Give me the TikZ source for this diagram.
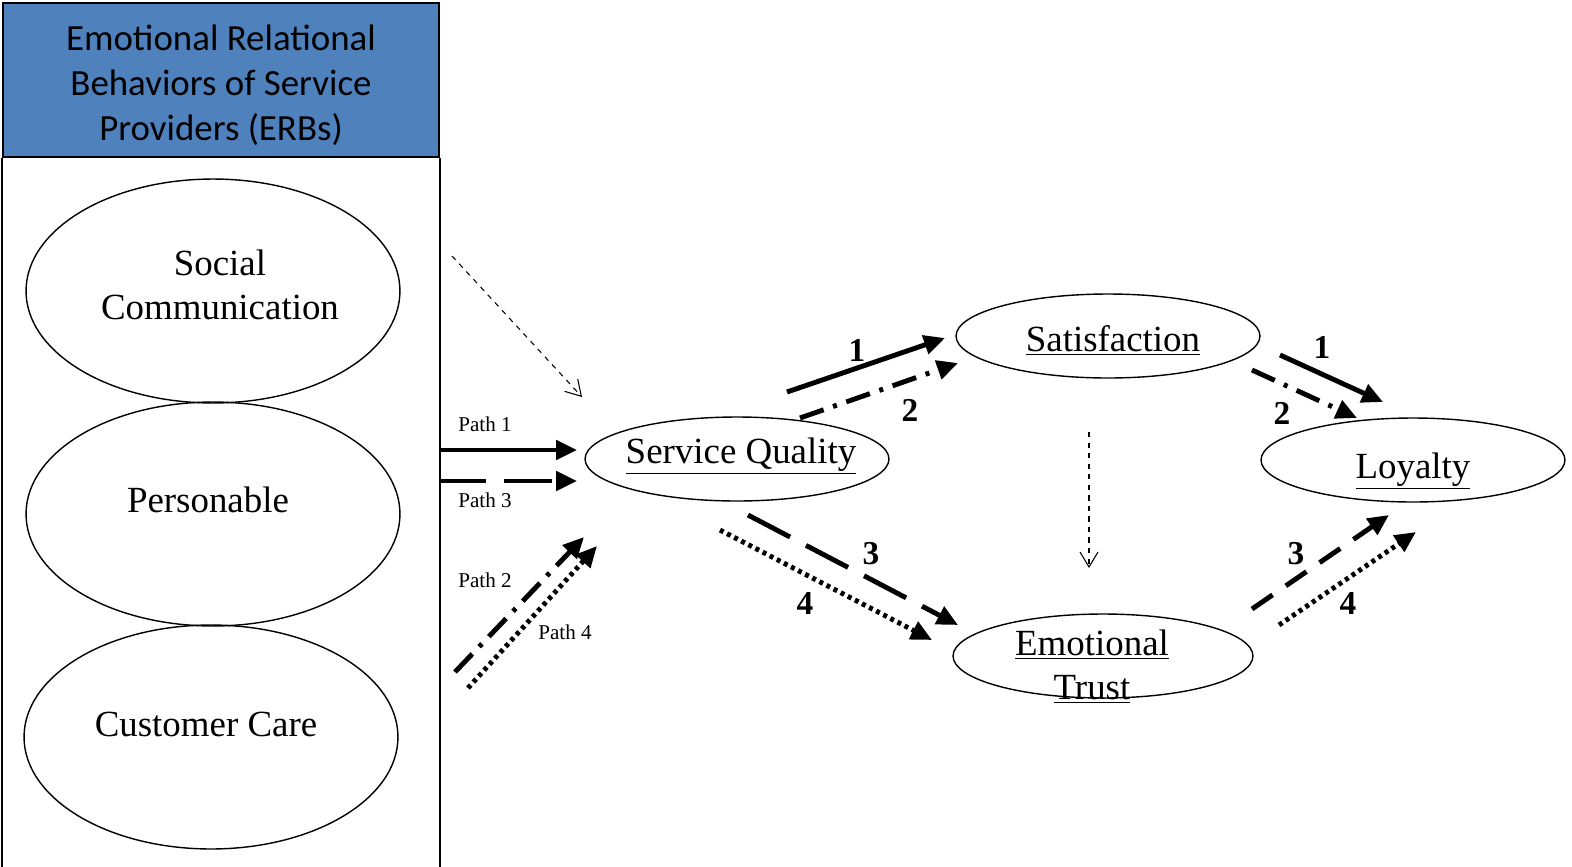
\documentclass[tikz,border=0pt]{standalone}
\usepackage{fontspec}
\setmainfont{Liberation Serif}
\newfontfamily\calibri{Carlito}
\usepackage{xcolor}
\usetikzlibrary{shapes.geometric,arrows.meta}

\definecolor{erbblue}{HTML}{4F81BD}

\begin{document}
\begin{tikzpicture}[x=0.02cm,y=-0.02cm,
  bigoval/.style={draw,ellipse,line width=0.8pt,inner sep=0pt,minimum width=7.48cm,minimum height=4.48cm},
  oval/.style={draw,ellipse,line width=0.8pt,inner sep=0pt,minimum width=6.08cm,minimum height=1.68cm},
  ovaltext/.style={align=center,inner sep=0pt,font=\fontsize{21}{25}\selectfont},
  pathlbl/.style={inner sep=0pt,font=\fontsize{12}{14}\selectfont},
  numlbl/.style={inner sep=0pt,font=\fontsize{19}{22}\selectfont\bfseries},
  bigarrow/.style={line width=2.8pt,-{Triangle[length=0.42cm,width=0.38cm]}},
  thinarrow/.style={line width=0.6pt,dashed,-{Straight Barb[length=0.3cm,width=0.36cm]}},
  longdash/.style={dash pattern=on 0.95cm off 0.36cm},
  shortdash/.style={dash pattern=on 0.5cm off 0.32cm},
  dashdot/.style={dash pattern=on 0.5cm off 0.2cm on 0.08cm off 0.2cm},
  dots/.style={dash pattern=on 0.08cm off 0.08cm}]

  % fixe la taille de l'image
  \useasboundingbox (0,0) rectangle (1572,866);

  % Le cadre des ERBs
  \node[draw,line width=1pt,fill=erbblue,minimum width=8.72cm,minimum height=3.08cm] (erbs) at (221,80) {};
  \node[align=center,font=\calibri\fontsize{21}{25.6}\selectfont] at (221,85)
    {Emotional Relational\\Behaviors of Service\\Providers (ERBs)};
  \draw[line width=1pt] (erbs.south west) -- ++(0,710);
  \draw[line width=1pt] (erbs.south east) -- ++(0,710);

  % Les trois comportements
  \node[bigoval] (social) at (213,291) {};
  \node[ovaltext] at (220,285) {Social\\Communication};
  \node[bigoval] (person) at (213,514) {};
  \node[ovaltext] at (208,500) {Personable};
  \node[bigoval] (care) at (211,737) {};
  \node[ovaltext] at (206,724) {Customer Care};

  % Les variables du modele
  \node[oval] (sq) at (737,459) {};
  \node[ovaltext] at (741,456) {\underline{Service Quality}};
  \node[oval] (sat) at (1108,336) {};
  \node[ovaltext] at (1113,340) {\underline{Satisfaction}};
  \node[oval] (loy) at (1413,460) {};
  \node[ovaltext] at (1413,471) {\underline{Loyalty}};
  \node[oval,minimum width=6cm] (et) at (1103,656) {};
  \node[ovaltext] at (1092,667) {\underline{Emotional}\\\underline{Trust}};

  % Extremites des fleches
  \foreach \n/\x/\y in {ds/452/256, de/582/397, vs/1089/432, ve/1089/568,
    pas/439/450, pae/577/450, pcs/439/481, pce/577/481,
    pbs/455/672, pbe/584/537, pds/468/688, pde/597/546,
    sa/787/392, sb/945/338, sc/800/418, sd/958/363,
    se/748/515, sf/958/625, sg/720/530, sh/932/640,
    la/1280/355, lb/1383/402, lc/1252/370, ld/1357/418,
    le/1252/609, lf/1389/515, lg/1279/625, lh/1416/532} {
    \coordinate (\n) at (\x,\y);
  }

  % Fleches fines en pointilles
  \draw[thinarrow] (ds) -- (de);
  \draw[thinarrow] (vs) -- (ve);

  % Les chemins
  \draw[bigarrow] (pas) -- (pae);
  \draw[bigarrow,longdash] (pcs) -- (pce);
  \draw[bigarrow,dashdot] (pbs) -- (pbe);
  \draw[bigarrow,dots] (pds) -- (pde);
  \draw[bigarrow] (sa) -- (sb);
  \draw[bigarrow,dashdot] (sc) -- (sd);
  \draw[bigarrow,longdash] (se) -- (sf);
  \draw[bigarrow,dots] (sg) -- (sh);
  \draw[bigarrow] (la) -- (lb);
  \draw[bigarrow,dashdot] (lc) -- (ld);
  \draw[bigarrow,shortdash] (le) -- (lf);
  \draw[bigarrow,dots] (lg) -- (lh);

  % Les etiquettes des chemins
  \foreach \x/\y/\n in {485/424/1, 485/500/3, 485/580/2, 565/632/4} {
    \node[pathlbl] at (\x,\y) {Path \n};
  }
  \foreach \x/\y/\n in {857/350/1, 910/410/2, 871/554/3, 805/604/4,
    1322/347/1, 1282/413/2, 1296/554/3, 1348/604/4} {
    \node[numlbl] at (\x,\y) {\n};
  }
\end{tikzpicture}
\end{document}
